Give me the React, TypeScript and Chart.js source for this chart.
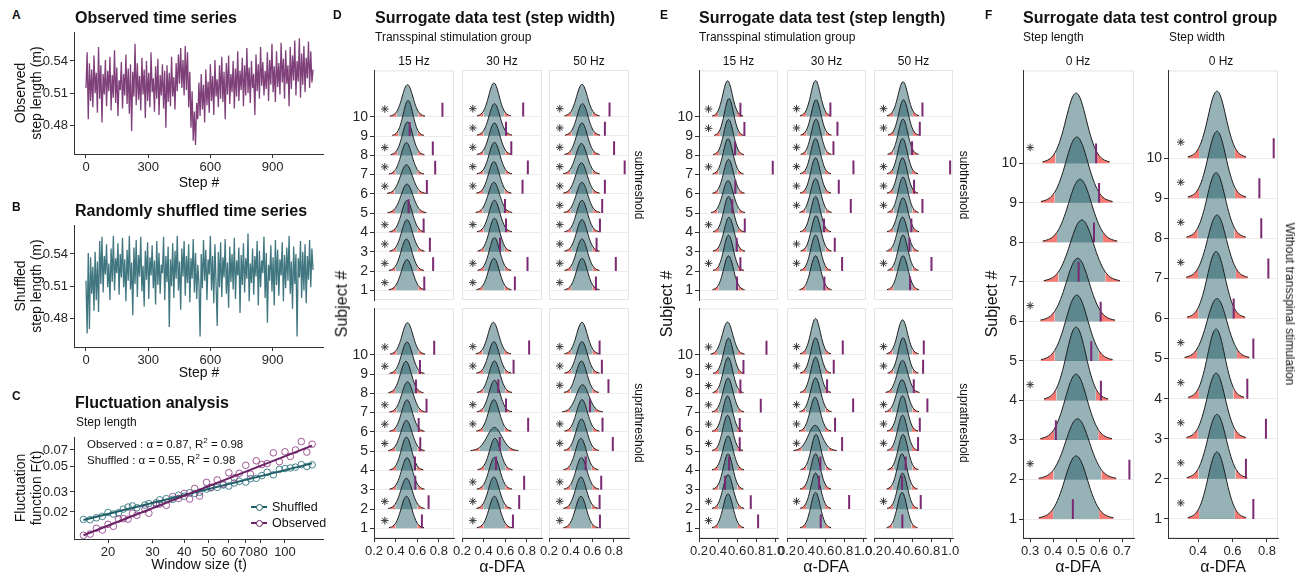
import React, { useEffect, useRef } from 'react';
import { Chart, registerables } from 'chart.js';
Chart.register(...registerables);

const FONT = "'Liberation Sans', Arial, Helvetica, sans-serif";
Chart.defaults.font.family = FONT;

// ---------------- DATA ----------------
// Panel A: observed step length (sampled every STEP_STRIDE steps)
const STEP_STRIDE = 5.5;
const A_STEP_LENGTH = [
  0.515, 0.548, 0.486, 0.538, 0.503, 0.532, 0.497, 0.545, 0.510, 0.529,
  0.492, 0.553, 0.505, 0.536, 0.483, 0.528, 0.509, 0.541, 0.498, 0.531,
  0.512, 0.544, 0.494, 0.527, 0.506, 0.550, 0.501, 0.534, 0.489, 0.522,
  0.513, 0.539, 0.496, 0.528, 0.508, 0.546, 0.500, 0.533, 0.491, 0.537,
  0.475, 0.530, 0.507, 0.556, 0.499, 0.538, 0.504, 0.526, 0.494, 0.543,
  0.509, 0.532, 0.487, 0.540, 0.503, 0.529, 0.497, 0.548, 0.511, 0.524,
  0.493, 0.535, 0.505, 0.542, 0.490, 0.527, 0.508, 0.537, 0.496, 0.531,
  0.478, 0.536, 0.502, 0.529, 0.498, 0.544, 0.507, 0.525, 0.495, 0.538,
  0.512, 0.546, 0.519, 0.552, 0.515, 0.541, 0.508, 0.554, 0.513, 0.548,
  0.497, 0.530, 0.478, 0.512, 0.466, 0.493, 0.462, 0.501, 0.486, 0.520,
  0.489, 0.528, 0.495, 0.518, 0.483, 0.532, 0.499, 0.521, 0.492, 0.537,
  0.503, 0.526, 0.490, 0.541, 0.507, 0.523, 0.497, 0.536, 0.505, 0.544,
  0.502, 0.530, 0.486, 0.538, 0.509, 0.545, 0.500, 0.528, 0.511, 0.540,
  0.496, 0.533, 0.507, 0.549, 0.503, 0.531, 0.513, 0.543, 0.498, 0.536,
  0.508, 0.552, 0.510, 0.534, 0.501, 0.540, 0.515, 0.528, 0.490, 0.546,
  0.512, 0.537, 0.505, 0.553, 0.517, 0.539, 0.508, 0.531, 0.514, 0.548,
  0.503, 0.541, 0.518, 0.556, 0.511, 0.535, 0.502, 0.549, 0.516, 0.538,
  0.509, 0.557, 0.520, 0.542, 0.505, 0.550, 0.519, 0.536, 0.498, 0.553,
  0.514, 0.545, 0.522, 0.559, 0.508, 0.540, 0.521, 0.561, 0.506, 0.547,
  0.518, 0.554, 0.511, 0.543, 0.524, 0.558, 0.515, 0.549, 0.520, 0.532,
];
// Panel B: shuffled step length
const B_STEP_LENGTH = [
  0.515, 0.466, 0.541, 0.470, 0.537, 0.503, 0.528, 0.487, 0.542, 0.497,
  0.533, 0.486, 0.552, 0.512, 0.556, 0.504, 0.538, 0.521, 0.549, 0.509,
  0.531, 0.497, 0.545, 0.514, 0.557, 0.506, 0.536, 0.522, 0.550, 0.502,
  0.540, 0.518, 0.555, 0.509, 0.535, 0.496, 0.544, 0.515, 0.557, 0.507,
  0.532, 0.483, 0.546, 0.512, 0.553, 0.500, 0.539, 0.519, 0.556, 0.505,
  0.529, 0.491, 0.543, 0.516, 0.551, 0.498, 0.537, 0.520, 0.548, 0.508,
  0.534, 0.493, 0.552, 0.511, 0.541, 0.503, 0.530, 0.522, 0.556, 0.497,
  0.538, 0.514, 0.547, 0.472, 0.535, 0.510, 0.550, 0.499, 0.543, 0.517,
  0.557, 0.506, 0.533, 0.488, 0.545, 0.519, 0.552, 0.501, 0.538, 0.513,
  0.549, 0.495, 0.536, 0.517, 0.554, 0.504, 0.541, 0.498, 0.530, 0.512,
  0.463, 0.540, 0.508, 0.553, 0.515, 0.544, 0.497, 0.535, 0.521, 0.557,
  0.506, 0.538, 0.494, 0.549, 0.512, 0.473, 0.542, 0.509, 0.551, 0.500,
  0.537, 0.518, 0.554, 0.503, 0.532, 0.490, 0.547, 0.514, 0.540, 0.507,
  0.555, 0.498, 0.534, 0.520, 0.546, 0.485, 0.539, 0.511, 0.550, 0.504,
  0.536, 0.517, 0.559, 0.496, 0.531, 0.513, 0.545, 0.502, 0.538, 0.519,
  0.552, 0.492, 0.543, 0.509, 0.534, 0.522, 0.556, 0.499, 0.541, 0.476,
  0.530, 0.515, 0.548, 0.505, 0.537, 0.492, 0.553, 0.511, 0.544, 0.501,
  0.535, 0.520, 0.551, 0.496, 0.539, 0.508, 0.546, 0.515, 0.557, 0.503,
  0.533, 0.489, 0.547, 0.512, 0.540, 0.463, 0.536, 0.518, 0.552, 0.499,
  0.542, 0.506, 0.549, 0.494, 0.538, 0.516, 0.553, 0.509, 0.545, 0.525,
];
const AB_X_TICKS = [0, 300, 600, 900];
const AB_Y_TICKS = [0.48, 0.51, 0.54];

// Panel C: fluctuation analysis
const C_WINDOW = [16, 17, 18, 19, 20, 21, 22, 23, 24, 25, 26, 28, 29, 31, 32, 34, 36, 38, 40, 42, 44, 46, 49, 51, 54, 57, 60, 63, 66, 70, 73, 77, 81, 85, 90, 95, 100, 105, 110, 116, 122, 128];
const C_OBSERVED = [0.0125, 0.0128, 0.0144, 0.0139, 0.0156, 0.0150, 0.0173, 0.0175, 0.0173, 0.0195, 0.0187, 0.0212, 0.0195, 0.0233, 0.0235, 0.0229, 0.0273, 0.0263, 0.0291, 0.0260, 0.0322, 0.0276, 0.0364, 0.0329, 0.0382, 0.0351, 0.0442, 0.0399, 0.0437, 0.0514, 0.0430, 0.0563, 0.0522, 0.0533, 0.0661, 0.0552, 0.0675, 0.0614, 0.0700, 0.0830, 0.0671, 0.0787];
const C_SHUFFLED = [0.0172, 0.0171, 0.0178, 0.0183, 0.0198, 0.0192, 0.0197, 0.0212, 0.0221, 0.0226, 0.0218, 0.0230, 0.0237, 0.0241, 0.0256, 0.0262, 0.0258, 0.0281, 0.0275, 0.0295, 0.0291, 0.0298, 0.0318, 0.0326, 0.0329, 0.0345, 0.0338, 0.0359, 0.0372, 0.0366, 0.0392, 0.0395, 0.0417, 0.0446, 0.0424, 0.0473, 0.0481, 0.0487, 0.0495, 0.0521, 0.0502, 0.0519];
const C_FIT_WINDOW = [16, 128];
const C_OBSERVED_FIT = [0.0125, 0.0764];
const C_SHUFFLED_FIT = [0.0170, 0.0534];
const C_X_TICKS = [20, 30, 40, 50, 60, 70, 80, 100];
const C_Y_TICKS = [0.02, 0.03, 0.05, 0.07];

// Ridge panels (D, E, F)
const SUBJECTS = [1, 2, 3, 4, 5, 6, 7, 8, 9, 10];
const SUBJECT_TICKS = [1, 2, 3, 4, 5, 6, 7, 8, 9, 10];
const FREQUENCIES = ['15 Hz', '30 Hz', '50 Hz'];
const STAR_X = 0.3;
// typical standardised surrogate-density profile (z in SD units, relative height)
const RIDGE_Z = [-3.25, -3, -2.75, -2.5, -2.25, -2, -1.75, -1.5, -1.25, -1, -0.75, -0.5, -0.25, 0, 0.25, 0.5, 0.75, 1, 1.25, 1.5, 1.75, 2, 2.25, 2.5, 2.75, 3, 3.25];
const RIDGE_PROFILE = [0.02, 0.03, 0.045, 0.068, 0.105, 0.16, 0.24, 0.345, 0.47, 0.615, 0.76, 0.885, 0.97, 1, 0.97, 0.885, 0.76, 0.615, 0.47, 0.345, 0.24, 0.16, 0.105, 0.068, 0.045, 0.03, 0.02];

const D_X_TICKS = [0.2, 0.4, 0.6, 0.8];
const E_X_TICKS = [0.2, 0.4, 0.6, 0.8, 1.0];
const F_LEN_X_TICKS = [0.3, 0.4, 0.5, 0.6, 0.7];
const F_WID_X_TICKS = [0.4, 0.6, 0.8];

// D: step width, subthreshold (rows: 15, 30, 50 Hz; values for subjects 1..10)
const D_SUB_MEAN = [
  [0.505, 0.500, 0.505, 0.505, 0.505, 0.500, 0.500, 0.510, 0.515, 0.510],
  [0.495, 0.500, 0.500, 0.500, 0.495, 0.495, 0.500, 0.500, 0.500, 0.495],
  [0.505, 0.505, 0.505, 0.505, 0.505, 0.500, 0.500, 0.505, 0.510, 0.505],
];
const D_SUB_SD = [
  [0.052, 0.050, 0.050, 0.050, 0.055, 0.055, 0.050, 0.048, 0.045, 0.050],
  [0.050, 0.048, 0.048, 0.050, 0.052, 0.050, 0.050, 0.050, 0.050, 0.048],
  [0.050, 0.050, 0.050, 0.050, 0.052, 0.052, 0.052, 0.050, 0.050, 0.050],
];
const D_SUB_OBS = [
  [0.665, 0.747, 0.717, 0.659, 0.520, 0.689, 0.766, 0.744, 0.530, 0.833],
  [0.689, 0.806, 0.552, 0.607, 0.598, 0.760, 0.809, 0.656, 0.607, 0.766],
  [0.634, 0.818, 0.640, 0.671, 0.692, 0.717, 0.900, 0.802, 0.717, 0.760],
];
const D_SUB_SIG = [
  [1, 1, 1, 1, 0, 1, 1, 1, 0, 1],
  [1, 1, 0, 1, 0, 1, 1, 1, 1, 1],
  [1, 1, 1, 1, 1, 1, 1, 1, 1, 1],
];
// D: step width, suprathreshold
const D_SUP_MEAN = [
  [0.500, 0.500, 0.505, 0.500, 0.500, 0.505, 0.510, 0.495, 0.505, 0.510],
  [0.500, 0.495, 0.500, 0.505, 0.500, 0.495, 0.500, 0.500, 0.495, 0.490],
  [0.495, 0.495, 0.500, 0.495, 0.500, 0.505, 0.510, 0.500, 0.505, 0.505],
];
const D_SUP_SD = [
  [0.050, 0.052, 0.050, 0.048, 0.052, 0.050, 0.052, 0.050, 0.050, 0.050],
  [0.050, 0.050, 0.050, 0.050, 0.068, 0.050, 0.050, 0.050, 0.050, 0.050],
  [0.050, 0.050, 0.050, 0.050, 0.050, 0.050, 0.058, 0.050, 0.050, 0.050],
];
const D_SUP_OBS = [
  [0.643, 0.705, 0.582, 0.579, 0.628, 0.613, 0.686, 0.588, 0.625, 0.757],
  [0.671, 0.729, 0.775, 0.515, 0.549, 0.812, 0.607, 0.536, 0.677, 0.821],
  [0.671, 0.668, 0.683, 0.539, 0.790, 0.695, 0.579, 0.750, 0.689, 0.668],
];
const D_SUP_SIG = [
  [1, 1, 0, 0, 1, 1, 1, 0, 1, 1],
  [1, 1, 1, 0, 0, 1, 1, 0, 1, 1],
  [1, 1, 1, 0, 1, 1, 0, 1, 1, 1],
];
// E: step length, subthreshold
const E_SUB_MEAN = [
  [0.510, 0.510, 0.515, 0.510, 0.505, 0.510, 0.505, 0.510, 0.515, 0.500],
  [0.500, 0.500, 0.505, 0.500, 0.500, 0.500, 0.500, 0.505, 0.505, 0.500],
  [0.505, 0.505, 0.500, 0.505, 0.505, 0.500, 0.500, 0.505, 0.510, 0.505],
];
const E_SUB_SD = [
  [0.052, 0.050, 0.052, 0.050, 0.055, 0.052, 0.050, 0.050, 0.048, 0.050],
  [0.052, 0.050, 0.050, 0.050, 0.052, 0.050, 0.050, 0.050, 0.050, 0.050],
  [0.052, 0.050, 0.052, 0.052, 0.050, 0.050, 0.050, 0.050, 0.050, 0.052],
];
const E_SUB_OBS = [
  [0.600, 0.635, 0.596, 0.681, 0.550, 0.582, 0.975, 0.579, 0.677, 0.635],
  [0.593, 0.779, 0.702, 0.589, 0.870, 0.744, 0.898, 0.688, 0.730, 0.656],
  [0.579, 0.804, 0.572, 0.593, 0.709, 0.621, 1.000, 0.600, 0.681, 0.709],
];
const E_SUB_SIG = [
  [0, 1, 0, 1, 0, 0, 1, 0, 1, 1],
  [0, 1, 1, 0, 1, 1, 1, 1, 1, 1],
  [0, 1, 0, 0, 1, 1, 1, 0, 1, 1],
];
// E: step length, suprathreshold
const E_SUP_MEAN = [
  [0.505, 0.505, 0.505, 0.505, 0.500, 0.500, 0.505, 0.505, 0.510, 0.500],
  [0.500, 0.500, 0.500, 0.505, 0.495, 0.495, 0.500, 0.500, 0.500, 0.500],
  [0.495, 0.500, 0.495, 0.505, 0.500, 0.500, 0.495, 0.500, 0.505, 0.500],
];
const E_SUP_SD = [
  [0.052, 0.052, 0.050, 0.052, 0.050, 0.050, 0.052, 0.050, 0.050, 0.055],
  [0.050, 0.050, 0.050, 0.050, 0.070, 0.052, 0.052, 0.050, 0.050, 0.050],
  [0.050, 0.050, 0.050, 0.050, 0.050, 0.050, 0.055, 0.055, 0.050, 0.052],
];
const E_SUP_OBS = [
  [0.821, 0.744, 0.474, 0.516, 0.628, 0.628, 0.849, 0.635, 0.667, 0.909],
  [0.554, 0.853, 0.537, 0.551, 0.779, 0.705, 0.895, 0.621, 0.691, 0.786],
  [0.498, 0.691, 0.495, 0.533, 0.663, 0.681, 0.761, 0.618, 0.716, 0.723],
];
const E_SUP_SIG = [
  [1, 1, 0, 0, 1, 1, 1, 1, 1, 1],
  [0, 1, 0, 0, 1, 1, 1, 0, 1, 1],
  [0, 1, 0, 0, 1, 1, 1, 0, 1, 1],
];
// F: control group (0 Hz)
const F_LEN_MEAN = [0.500, 0.506, 0.500, 0.500, 0.503, 0.507, 0.525, 0.517, 0.503, 0.500];
const F_LEN_SD = [0.050, 0.052, 0.048, 0.043, 0.048, 0.050, 0.051, 0.050, 0.048, 0.045];
const F_LEN_OBS = [0.486, 0.732, 0.412, 0.608, 0.566, 0.607, 0.511, 0.578, 0.600, 0.587];
const F_LEN_SIG = [0, 1, 0, 1, 0, 1, 0, 0, 0, 1];
const F_WID_MEAN = [0.510, 0.510, 0.505, 0.505, 0.510, 0.505, 0.510, 0.505, 0.510, 0.510];
const F_WID_SD = [0.052, 0.054, 0.053, 0.050, 0.058, 0.052, 0.055, 0.053, 0.052, 0.052];
const F_WID_OBS = [0.721, 0.678, 0.794, 0.686, 0.721, 0.607, 0.808, 0.767, 0.756, 0.839];
const F_WID_SIG = [1, 1, 1, 1, 1, 0, 1, 1, 1, 1];

// ---------------- STYLE ----------------
const AXIS = '#333333';
const GRID = '#ebebeb';
const RIDGE_FILL = 'rgba(22,84,93,0.45)';
const TAIL_FILL = 'rgba(246,112,104,0.92)';
const OUTLINE = '#1e1e1e';
const OBS_COLOR = '#7a2a72';
const A_COLOR = 'rgba(105,30,98,0.85)';
const B_COLOR = 'rgba(30,94,104,0.85)';
const M = { l: 50, r: 16, t: 10, b: 34 };

const panelBorder = {
  id: 'panelBorder',
  beforeDraw(chart: any, _a: any, opts: any) {
    if (!opts || !opts.color) return;
    const { ctx, chartArea: a } = chart;
    ctx.save();
    ctx.strokeStyle = opts.color;
    ctx.lineWidth = 1;
    ctx.strokeRect(a.left + 0.5, a.top + 0.5, a.right - a.left - 1, a.bottom - a.top - 1);
    ctx.restore();
  },
};

function axis(o: any) {
  const { type = 'linear', min, max, ticks, fmt, labels = true, border = true, grid = null, size = 13, pad = 2, fit } = o;
  return {
    type, min, max,
    afterBuildTicks: (ax: any) => { ax.ticks = ticks.map((v: number) => ({ value: v })); },
    afterFit: fit,
    ticks: {
      display: labels, autoSkip: false, maxRotation: 0, minRotation: 0, padding: pad,
      color: '#262626', font: { size, family: FONT }, callback: (v: any) => fmt(Number(v)),
    },
    grid: {
      display: labels || !!grid, drawOnChartArea: !!grid, color: grid || 'rgba(0,0,0,0)',
      drawTicks: labels, tickLength: 4, tickColor: AXIS, lineWidth: 1,
    },
    border: { display: border, color: AXIS, width: 1 },
  };
}
const fitX = (s: any) => { s.height = M.b; };
const fitY = (s: any) => { s.width = M.l; };

function baseOptions(x: any, y: any, borderColor: string | null) {
  return {
    responsive: false, animation: false, devicePixelRatio: 1, events: [],
    layout: { padding: { left: 0, right: M.r, top: M.t, bottom: 0 } },
    plugins: { legend: { display: false }, tooltip: { enabled: false }, panelBorder: { color: borderColor } },
    scales: { x, y },
  };
}

function makeSeries(values: number[], color: string, yr: number[]) {
  return () => ({
    type: 'line',
    data: { datasets: [{ data: values.map((v, i) => ({ x: i * STEP_STRIDE, y: v })), borderColor: color, borderWidth: 1.3, pointRadius: 0, tension: 0, fill: false }] },
    options: baseOptions(
      axis({ min: -57.8, max: 1142.5, ticks: AB_X_TICKS, fmt: (v: number) => String(v), fit: fitX }),
      axis({ min: yr[0], max: yr[1], ticks: AB_Y_TICKS, fmt: (v: number) => v.toFixed(2), fit: fitY }),
      null,
    ),
    plugins: [panelBorder],
  });
}

function makeC() {
  return {
    type: 'line',
    data: {
      datasets: [
        { data: C_FIT_WINDOW.map((t, i) => ({ x: t, y: C_OBSERVED_FIT[i] })), borderColor: '#6a2264', borderWidth: 2, pointRadius: 0, fill: false },
        { data: C_FIT_WINDOW.map((t, i) => ({ x: t, y: C_SHUFFLED_FIT[i] })), borderColor: '#1f5e68', borderWidth: 2, pointRadius: 0, fill: false },
        { data: C_WINDOW.map((t, i) => ({ x: t, y: C_OBSERVED[i] })), showLine: false, pointRadius: 3.3, pointBorderWidth: 1, pointBorderColor: 'rgba(150,70,140,0.9)', pointBackgroundColor: 'rgba(0,0,0,0)' },
        { data: C_WINDOW.map((t, i) => ({ x: t, y: C_SHUFFLED[i] })), showLine: false, pointRadius: 3.3, pointBorderWidth: 1, pointBorderColor: 'rgba(50,120,130,0.9)', pointBackgroundColor: 'rgba(0,0,0,0)' },
      ],
    },
    options: baseOptions(
      axis({ type: 'logarithmic', min: 14.68, max: 141.3, ticks: C_X_TICKS, fmt: (v: number) => String(v), fit: fitX }),
      axis({ type: 'logarithmic', min: 0.01159, max: 0.091, ticks: C_Y_TICKS, fmt: (v: number) => String(v), fit: fitY }),
      null,
    ),
    plugins: [panelBorder],
  };
}

function ridgeSets(mean: number[], sd: number[], obs: number[], sig: number[], K: number, segH: number) {
  const sets: any[] = [];
  sets.push({
    data: sig.map((s, i) => ({ x: STAR_X, y: s ? SUBJECTS[i] + 0.4 : null })),
    showLine: false, pointStyle: 'star', pointRadius: 3.8, pointBorderWidth: 1,
    pointBorderColor: '#3a3a3a', pointBackgroundColor: '#3a3a3a', borderColor: '#3a3a3a',
  });
  const seg: any[] = [];
  obs.forEach((o, i) => {
    seg.push({ x: o, y: SUBJECTS[i] }, { x: o, y: SUBJECTS[i] + segH }, { x: o, y: null });
  });
  sets.push({ data: seg, borderColor: OBS_COLOR, borderWidth: 2, pointRadius: 0, spanGaps: false, fill: false, borderCapStyle: 'butt' });
  SUBJECTS.forEach((s, i) => {
    const h = K / sd[i];
    const all = RIDGE_Z.map((z, k) => ({ x: mean[i] + z * sd[i], y: s + h * RIDGE_PROFILE[k] }));
    const parts: any[] = [
      [all.filter((_, k) => Math.abs(RIDGE_Z[k]) <= 2), RIDGE_FILL],
      [all.filter((_, k) => RIDGE_Z[k] <= -2), TAIL_FILL],
      [all.filter((_, k) => RIDGE_Z[k] >= 2), TAIL_FILL],
    ];
    parts.forEach(([data, color]) => {
      sets.push({ data, fill: { value: s }, backgroundColor: color, borderColor: OUTLINE, borderWidth: 1, pointRadius: 0, tension: 0.3 });
    });
  });
  return sets;
}

function makeRidge(f: any) {
  return () => ({
    type: 'line',
    data: { datasets: ridgeSets(f.mean, f.sd, f.obs, f.sig, f.K, f.segH) },
    options: baseOptions(
      axis({ min: f.xr[0], max: f.xr[1], ticks: f.xTicks, fmt: (v: number) => v.toFixed(1), labels: f.showX, border: f.showX, fit: fitX }),
      axis({ min: f.yr[0], max: f.yr[1], ticks: SUBJECT_TICKS, fmt: (v: number) => String(v), labels: f.showY, border: f.showY, grid: GRID, size: 14, fit: fitY }),
      '#e4e4e4',
    ),
    plugins: [panelBorder],
  });
}

// facet layout
const ROWS = [[70, 300], [308, 538]];
const D_COLS = [[374, 454], [462, 542], [549, 629]];
const E_COLS = [[699, 778], [787, 866], [874, 953]];
const RIDGE_YR = [0.5, 12.4];

const FACETS: any[] = [];
[[D_SUB_MEAN, D_SUB_SD, D_SUB_OBS, D_SUB_SIG], [D_SUP_MEAN, D_SUP_SD, D_SUP_OBS, D_SUP_SIG]].forEach((g, r) => {
  D_COLS.forEach((c, k) => FACETS.push({
    rect: { x0: c[0], x1: c[1], y0: ROWS[r][0], y1: ROWS[r][1] }, xr: [0.2, 0.94], yr: RIDGE_YR, xTicks: D_X_TICKS,
    showX: r === 1, showY: k === 0, mean: g[0][k], sd: g[1][k], obs: g[2][k], sig: g[3][k], K: 0.083, segH: 0.72,
  }));
});
[[E_SUB_MEAN, E_SUB_SD, E_SUB_OBS, E_SUB_SIG], [E_SUP_MEAN, E_SUP_SD, E_SUP_OBS, E_SUP_SIG]].forEach((g, r) => {
  E_COLS.forEach((c, k) => FACETS.push({
    rect: { x0: c[0], x1: c[1], y0: ROWS[r][0], y1: ROWS[r][1] }, xr: [0.2, 1.03], yr: RIDGE_YR, xTicks: E_X_TICKS,
    showX: r === 1, showY: k === 0, mean: g[0][k], sd: g[1][k], obs: g[2][k], sig: g[3][k], K: 0.093, segH: 0.72,
  }));
});
FACETS.push({
  rect: { x0: 1023, x1: 1134, y0: 70, y1: 538 }, xr: [0.269, 0.752], yr: [0.52, 12.35], xTicks: F_LEN_X_TICKS,
  showX: true, showY: true, mean: F_LEN_MEAN, sd: F_LEN_SD, obs: F_LEN_OBS, sig: F_LEN_SIG, K: 0.08, segH: 0.5,
});
FACETS.push({
  rect: { x0: 1168, x1: 1278, y0: 70, y1: 538 }, xr: [0.226, 0.864], yr: [0.525, 12.19], xTicks: F_WID_X_TICKS,
  showX: true, showY: true, mean: F_WID_MEAN, sd: F_WID_SD, obs: F_WID_OBS, sig: F_WID_SIG, K: 0.087, segH: 0.5,
});

// ---------------- COMPONENTS ----------------
function ChartCanvas({ rect, make }: any) {
  const ref = useRef<HTMLCanvasElement | null>(null);
  const left = rect.x0 - M.l;
  const top = rect.y0 - M.t;
  const width = rect.x1 - rect.x0 + M.l + M.r;
  const height = rect.y1 - rect.y0 + M.t + M.b;
  useEffect(() => {
    const chart = new Chart(ref.current as any, make() as any);
    return () => chart.destroy();
  }, []);
  return <canvas ref={ref} width={width} height={height} style={{ position: 'absolute', left, top, width, height }} />;
}

function T({ x, y, s = 12, b = false, a = 'start', r = 0, children, lh = 1.15 }: any) {
  const tx = a === 'start' ? '0%' : a === 'middle' ? '-50%' : '-100%';
  return (
    <div style={{
      position: 'absolute', left: x, top: y, transform: `translate(${tx}, -50%) rotate(${r}deg)`,
      fontSize: s, fontWeight: b ? 'bold' : 'normal', lineHeight: lh, whiteSpace: 'pre', textAlign: 'center',
      fontFamily: FONT, color: '#111', pointerEvents: 'none',
    }}>{children}</div>
  );
}

function LegendKey({ x, y, color }: any) {
  return (
    <>
      <div style={{ position: 'absolute', left: x, top: y - 1, width: 16, height: 2, background: color }} />
      <div style={{ position: 'absolute', left: x + 4.5, top: y - 3.5, width: 5, height: 5, borderRadius: '50%', border: `1.2px solid ${color}`, background: '#fff' }} />
    </>
  );
}

export default function App() {
  return (
    <div style={{ position: 'absolute', left: 0, top: 0, width: 1302, height: 574, background: '#fff', overflow: 'hidden', fontFamily: FONT }}>
      <ChartCanvas rect={{ x0: 74, y0: 32, x1: 323, y1: 154 }} make={makeSeries(A_STEP_LENGTH, A_COLOR, [0.4537, 0.5669])} />
      <ChartCanvas rect={{ x0: 74, y0: 225, x1: 323, y1: 347 }} make={makeSeries(B_STEP_LENGTH, B_COLOR, [0.4533, 0.567])} />
      <ChartCanvas rect={{ x0: 74, y0: 437, x1: 323, y1: 539 }} make={makeC} />
      {FACETS.map((f, i) => <ChartCanvas key={i} rect={f.rect} make={makeRidge(f)} />)}

      {/* Panel A */}
      <T x={12} y={16} s={12} b>A</T>
      <T x={75} y={18} s={16} b>Observed time series</T>
      <T x={28} y={93} s={14} a="middle" r={-90}>{'Observed\nstep length (m)'}</T>
      <T x={199} y={182} s={14} a="middle">Step #</T>
      {/* Panel B */}
      <T x={12} y={208} s={12} b>B</T>
      <T x={75} y={211} s={16} b>Randomly shuffled time series</T>
      <T x={28} y={286} s={14} a="middle" r={-90}>{'Shuffled\nstep length (m)'}</T>
      <T x={199} y={372} s={14} a="middle">Step #</T>
      {/* Panel C */}
      <T x={12} y={397} s={12} b>C</T>
      <T x={75} y={403} s={16} b>Fluctuation analysis</T>
      <T x={76} y={423} s={12}>Step length</T>
      <T x={28} y={488} s={14} a="middle" r={-90}>{'Fluctuation\nfunction F(t)'}</T>
      <T x={199} y={564} s={14} a="middle">Window size (t)</T>
      <T x={87} y={444} s={11.5}>Observed : α = 0.87, R<sup style={{ fontSize: 8 }}>2</sup> = 0.98</T>
      <T x={87} y={460} s={11.5}>Shuffled : α = 0.55, R<sup style={{ fontSize: 8 }}>2</sup> = 0.98</T>
      <LegendKey x={251} y={507} color="#1f5e68" />
      <LegendKey x={251} y={523} color="#6a2264" />
      <T x={272} y={507} s={12.5}>Shuffled</T>
      <T x={272} y={523} s={12.5}>Observed</T>

      {/* Panel D */}
      <T x={333} y={16} s={12} b>D</T>
      <T x={375} y={18} s={16} b>Surrogate data test (step width)</T>
      <T x={375} y={38} s={12}>Transspinal stimulation group</T>
      {D_COLS.map((c, i) => <T key={'ds' + i} x={(c[0] + c[1]) / 2} y={62} s={12} a="middle">{FREQUENCIES[i]}</T>)}
      <T x={638} y={185} s={12} a="middle" r={90}>subthreshold</T>
      <T x={638} y={423} s={12} a="middle" r={90}>suprathreshold</T>
      <T x={342} y={304} s={16} a="middle" r={-90}>Subject #</T>
      <T x={502} y={567} s={16} a="middle">α-DFA</T>

      {/* Panel E */}
      <T x={660} y={16} s={12} b>E</T>
      <T x={699} y={18} s={16} b>Surrogate data test (step length)</T>
      <T x={699} y={38} s={12}>Transspinal stimulation group</T>
      {E_COLS.map((c, i) => <T key={'es' + i} x={(c[0] + c[1]) / 2} y={62} s={12} a="middle">{FREQUENCIES[i]}</T>)}
      <T x={963} y={185} s={12} a="middle" r={90}>subthreshold</T>
      <T x={963} y={423} s={12} a="middle" r={90}>suprathreshold</T>
      <T x={667} y={304} s={16} a="middle" r={-90}>Subject #</T>
      <T x={826} y={567} s={16} a="middle">α-DFA</T>

      {/* Panel F */}
      <T x={985} y={16} s={12} b>F</T>
      <T x={1023} y={18} s={16} b>Surrogate data test control group</T>
      <T x={1023} y={38} s={12}>Step length</T>
      <T x={1169} y={38} s={12}>Step width</T>
      <T x={1078} y={62} s={12} a="middle">0 Hz</T>
      <T x={1221} y={62} s={12} a="middle">0 Hz</T>
      <T x={1289} y={304} s={12} a="middle" r={90}>Without transspinal stimulation</T>
      <T x={992} y={304} s={16} a="middle" r={-90}>Subject #</T>
      <T x={1078} y={567} s={16} a="middle">α-DFA</T>
      <T x={1223} y={567} s={16} a="middle">α-DFA</T>
    </div>
  );
}
